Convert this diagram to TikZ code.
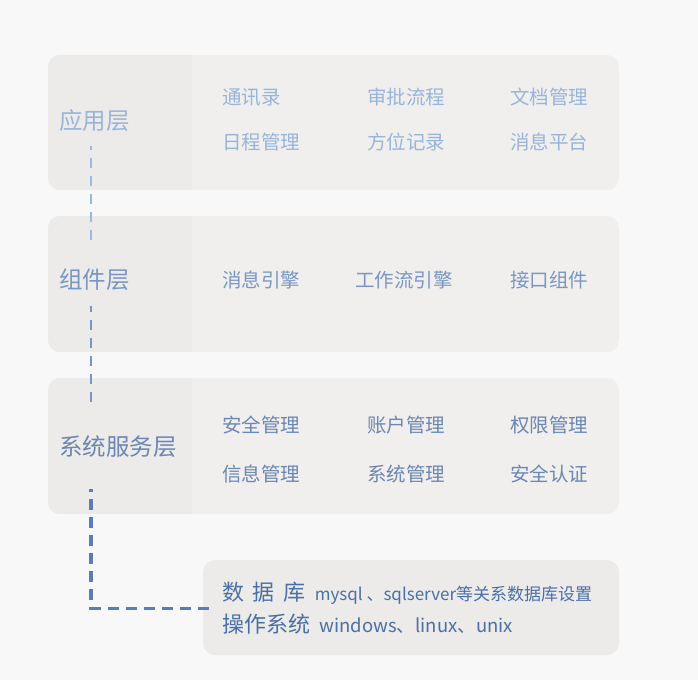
\documentclass[tikz,border=0pt]{standalone}
\usepackage{fontspec}
\setmainfont{Noto Sans CJK SC}
\usepackage{tikz}
\usetikzlibrary{backgrounds,positioning}
\definecolor{bgcol}{HTML}{F8F8F8}
\definecolor{panelcol}{HTML}{F0EFED}
\definecolor{leftcol}{HTML}{ECEBE9}
\definecolor{basecol}{HTML}{ECEBE9}
\definecolor{blueA}{HTML}{98B4DC}
\definecolor{blueB}{HTML}{7896C3}
\definecolor{blueC}{HTML}{6A86B1}
\definecolor{blueD}{HTML}{4A6FA8}
\tikzstyle{layer}=[anchor=west,
inner sep=0pt,
font=\fontsize{23.5}{28}\selectfont]
\tikzstyle{item}=[anchor=west,
inner sep=0pt,
font=\fontsize{19.5}{24}\selectfont]
\tikzstyle{itemmid}=[item,
anchor=center]
\tikzstyle{basekey}=[anchor=west,
inner sep=0pt,
text=blueD,
font=\fontsize{22}{26}\selectfont]
\tikzstyle{basetxt}=[anchor=base west,
inner sep=0pt,
text=blueD]
\tikzstyle{basebox}=[rectangle,
fill=basecol,
rounded corners=12pt,
minimum width=416pt,
minimum height=95pt]
\tikzstyle{link1}=[draw=blueA!95!white,
line width=2pt,
dash pattern=on 10pt off 8pt]
\tikzstyle{link2}=[draw=blueB,
line width=2pt,
dash pattern=on 10pt off 8pt]
\tikzstyle{link3}=[draw=blueD!90!white,
line width=3.3pt,
dash pattern=on 11pt off 7pt]
\begin{document}
\begin{tikzpicture}[x=1pt,y=-1pt]
	\useasboundingbox (0,0) rectangle (698,680);

	% Layer names in the left column of each panel
	\node (l_app) [layer, text=blueA] at (59,120.5) {应用层};
	\node (l_cmp) [layer, text=blueB] at (59,280) {组件层};
	\node (l_sys) [layer, text=blueC] at (59,447) {系统服务层};

	% First layer
	\node (a_11) [item, text=blueA] at (222,97) {通讯录};
	\node (a_12) [itemmid, text=blueA] at (406,97) {审批流程};
	\node (a_13) [item, text=blueA] at (510,97) {文档管理};
	\node (a_21) [item, text=blueA] at (222,142) {日程管理};
	\node (a_22) [itemmid, text=blueA] at (406,142) {方位记录};
	\node (a_23) [item, text=blueA] at (510,142) {消息平台};

	% Second layer
	\node (c_11) [item, text=blueB] at (222,280) {消息引擎};
	\node (c_12) [itemmid, text=blueB] at (404,280) {工作流引擎};
	\node (c_13) [item, text=blueB] at (510,280) {接口组件};

	% Third layer
	\node (s_11) [item, text=blueC] at (222,425) {安全管理};
	\node (s_12) [itemmid, text=blueC] at (406,425) {账户管理};
	\node (s_13) [item, text=blueC] at (510,425) {权限管理};
	\node (s_21) [item, text=blueC] at (222,474) {信息管理};
	\node (s_22) [itemmid, text=blueC] at (406,474) {系统管理};
	\node (s_23) [item, text=blueC] at (510,474) {安全认证};

	% Base: database and operating system
	\node (db_key) [basekey] at (222,592) {数\,\ 据\,\ 库};
	\node (db_txt) [basetxt, font=\fontsize{17}{20}\selectfont]
	at ([xshift=9pt]db_key.base east) {mysql 、sqlserver等关系数据库设置};
	\node (os_key) [basekey] at (222,624) {操作系统};
	\node (os_txt) [basetxt, font=\fontsize{18.5}{22}\selectfont]
	at ([xshift=9pt]os_key.base east) {windows、linux、unix};

	% Panels behind the text
	\begin{pgfonlayer}{background}
	\fill[bgcol] (0,0) rectangle (698,680);
	\foreach \top/\bot in {55/190, 216/352, 378/514} {
		\begin{scope}
		\clip[rounded corners=12pt] (48,\top) rectangle (619,\bot);
		\fill[panelcol] (48,\top) rectangle (619,\bot);
		\fill[leftcol] (48,\top) rectangle (192,\bot);
		\end{scope}
	}
	\node (base) [basebox] at (411,607.5) {};
	\end{pgfonlayer}

	% Dashed links between the layers
	\coordinate (dash_x) at (91,0);
	\draw[link1] ([yshift=-119.5pt]l_app.center -| dash_x) -- ([yshift=-25.5pt]l_app.center -| dash_x);
	\draw[link2] ([yshift=-122pt]l_cmp.center -| dash_x) -- ([yshift=-25.5pt]l_cmp.center -| dash_x);
	\draw[link3] ([xshift=6pt,yshift=-1pt]base.west) -| ([yshift=-42pt]l_sys.center -| dash_x);
\end{tikzpicture}
\end{document}
